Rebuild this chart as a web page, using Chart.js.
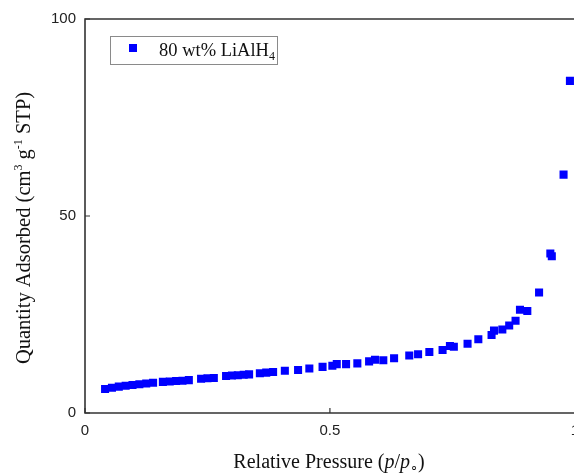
<!DOCTYPE html>
<html>
<head>
<meta charset="utf-8">
<script src="https://cdn.jsdelivr.net/npm/chart.js@4"></script>
<style>
  html, body { margin: 0; padding: 0; background: #fff; overflow: hidden; }
  #wrap { width: 574px; height: 473px; overflow: hidden; }
</style>
</head>
<body>
<div id="wrap"><canvas id="chart" width="588" height="473"></canvas></div>
<script>
  const pressure = [
    0.041, 0.055, 0.069, 0.083, 0.097, 0.111, 0.125, 0.139,
    0.159, 0.173, 0.186, 0.199, 0.212,
    0.237, 0.250, 0.263,
    0.288, 0.300, 0.312, 0.324, 0.335,
    0.357, 0.370, 0.384,
    0.408, 0.435, 0.458, 0.485, 0.505, 0.514, 0.533, 0.556, 0.580, 0.592,
    0.609, 0.631, 0.662, 0.680, 0.703, 0.730, 0.745, 0.753, 0.781, 0.803,
    0.830, 0.835, 0.852, 0.866, 0.879, 0.888, 0.903, 0.927, 0.950, 0.953,
    0.977, 0.990
  ];
  const adsorbed = [
    6.1, 6.4, 6.7, 6.9, 7.1, 7.3, 7.5, 7.7,
    7.9, 8.0, 8.1, 8.2, 8.35,
    8.7, 8.8, 8.9,
    9.4, 9.5, 9.6, 9.7, 9.8,
    10.1, 10.25, 10.4,
    10.7, 10.9, 11.3, 11.7, 12.0, 12.4, 12.4, 12.6, 13.1, 13.5,
    13.4, 13.9, 14.6, 14.9, 15.5, 16.0, 17.0, 16.8, 17.6, 18.7,
    19.8, 20.9, 21.2, 22.2, 23.4, 26.2, 25.9, 30.6, 40.5, 39.8,
    60.5, 84.3
  ];
  const xTicks = [0, 0.5, 1];
  const yTicks = [0, 50, 100];
  const seriesLabel = "80 wt% LiAlH";

  const serif = '"Liberation Serif", "Times New Roman", serif';
  const sans = '"Liberation Sans", Arial, sans-serif';
  const ink = "#333";

  // draws a run of text pieces: [text, font, dy]
  function drawRuns(ctx, runs, x, y, align) {
    let total = 0;
    runs.forEach((r) => { ctx.font = r[1]; total += ctx.measureText(r[0]).width; });
    let cx = align === "center" ? x - total / 2 : x;
    ctx.textAlign = "left";
    runs.forEach((r) => {
      ctx.font = r[1];
      ctx.fillText(r[0], cx, y + (r[2] || 0));
      cx += ctx.measureText(r[0]).width;
    });
  }

  const framePlugin = {
    id: "frame",
    afterDraw(chart) {
      const { ctx, chartArea: a, scales } = chart;
      ctx.save();
      ctx.strokeStyle = ink;
      ctx.lineWidth = 1.6;
      ctx.beginPath();
      ctx.moveTo(a.right + 5, a.top);
      ctx.lineTo(a.left, a.top);
      ctx.lineTo(a.left, a.bottom);
      ctx.lineTo(a.right + 5, a.bottom);
      ctx.stroke();
      // inward ticks
      ctx.lineWidth = 1.2;
      ctx.beginPath();
      xTicks.forEach((v) => {
        const px = scales.x.getPixelForValue(v);
        ctx.moveTo(px, a.bottom);
        ctx.lineTo(px, a.bottom - 5);
      });
      yTicks.forEach((v) => {
        const py = scales.y.getPixelForValue(v);
        ctx.moveTo(a.left, py);
        ctx.lineTo(a.left + 5, py);
      });
      ctx.stroke();

      // legend
      ctx.strokeStyle = "#8a8a8a";
      ctx.lineWidth = 1;
      ctx.strokeRect(110.5, 36.5, 167, 28);
      ctx.fillStyle = "#0000ff";
      ctx.fillRect(129, 44, 8, 8);
      ctx.fillStyle = "#111";
      ctx.textBaseline = "alphabetic";
      drawRuns(ctx, [[seriesLabel, "18.5px " + serif], ["4", "12px " + serif, 4]], 159, 56, "left");

      // x title
      drawRuns(ctx, [
        ["Relative Pressure (", "20px " + serif],
        ["p", "italic 20px " + serif],
        ["/", "20px " + serif],
        ["p", "italic 20px " + serif],
        ["\u2218", "13px " + serif, 3],
        [")", "20px " + serif]
      ], 329, 468, "center");

      // y title (rotated)
      ctx.translate(30, 228);
      ctx.rotate(-Math.PI / 2);
      drawRuns(ctx, [
        ["Quantity Adsorbed (cm", "20.5px " + serif],
        ["3", "12px " + serif, -8],
        [" g", "20.5px " + serif],
        ["-1", "12px " + serif, -8],
        [" STP)", "20.5px " + serif]
      ], 0, 0, "center");
      ctx.restore();
    }
  };

  new Chart(document.getElementById("chart"), {
    type: "scatter",
    data: {
      datasets: [{
        label: seriesLabel,
        data: pressure.map((p, i) => ({ x: p, y: adsorbed[i] })),
        pointStyle: "rect",
        pointRadius: 5.7,
        pointBorderWidth: 0,
        backgroundColor: "#0000ff",
        borderColor: "#0000ff"
      }]
    },
    options: {
      responsive: false,
      animation: false,
      layout: { padding: { top: 19, right: 5, left: 0, bottom: 0 } },
      plugins: { legend: { display: false }, tooltip: { enabled: false } },
      scales: {
        x: {
          type: "linear", min: 0, max: 1,
          grid: { display: false, drawTicks: false },
          border: { display: false },
          afterFit: (s) => { s.height = 60; },
          afterBuildTicks: (s) => { s.ticks = xTicks.map((v) => ({ value: v })); },
          ticks: { color: "#222", font: { family: sans, size: 15 }, padding: 9,
            maxRotation: 0, callback: (v) => String(v) }
        },
        y: {
          type: "linear", min: 0, max: 100,
          grid: { display: false, drawTicks: false },
          border: { display: false },
          afterFit: (s) => { s.width = 85; },
          afterBuildTicks: (s) => { s.ticks = yTicks.map((v) => ({ value: v })); },
          ticks: { color: "#222", font: { family: sans, size: 15 }, padding: 9,
            callback: (v) => String(v) }
        }
      }
    },
    plugins: [framePlugin]
  });
</script>
</body>
</html>
